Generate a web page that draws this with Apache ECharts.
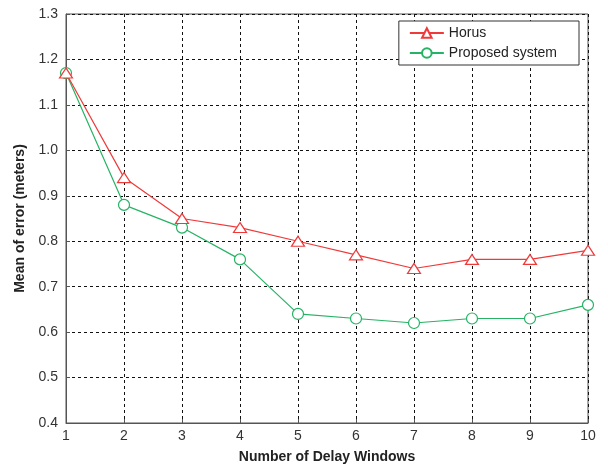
<!DOCTYPE html>
<html>
<head>
<meta charset="utf-8">
<script src="https://cdn.jsdelivr.net/npm/echarts@6/dist/echarts.min.js"></script>
<style>html,body{margin:0;padding:0;background:#fff}#c{width:608px;height:469px}</style>
</head>
<body>
<div id="c"></div>
<script>
const windows = [1, 2, 3, 4, 5, 6, 7, 8, 9, 10];
const horus = [1.17, 0.94, 0.85, 0.83, 0.80, 0.77, 0.74, 0.76, 0.76, 0.78];
const proposed = [1.17, 0.88, 0.83, 0.76, 0.64, 0.63, 0.62, 0.63, 0.63, 0.66];
const seriesNames = ['Horus', 'Proposed system'];

const FONT = '"Liberation Sans Narrow", "Arial Narrow", "Liberation Sans", Arial, sans-serif';
const chart = echarts.init(document.getElementById('c'));
const gridLine = { show: true, lineStyle: { color: '#111', type: [3, 3], width: 1 } };
chart.setOption({
  animation: false,
  backgroundColor: '#fff',
  grid: { left: 66, right: 20, top: 14, bottom: 45, show: true, borderColor: '#555', borderWidth: 1, backgroundColor: 'transparent' },
  legend: {
    data: seriesNames,
    orient: 'vertical',
    right: 29, top: 21,
    padding: [5, 22, 5, 10],
    itemGap: 6,
    itemWidth: 34, itemHeight: 12,
    backgroundColor: '#fff',
    borderColor: '#333', borderWidth: 1,
    borderRadius: 0,
    textStyle: { fontFamily: 'Liberation Sans, Arial, sans-serif', fontSize: 14, color: '#222' }
  },
  xAxis: {
    type: 'value', min: 1, max: 10, interval: 1,
    name: 'Number of Delay Windows', nameLocation: 'middle', nameGap: 27,
    nameTextStyle: { fontFamily: FONT, fontWeight: 'bold', fontSize: 14, color: '#222' },
    axisLine: { show: true, lineStyle: { color: '#555' } },
    axisTick: { show: true, inside: true, length: 4, lineStyle: { color: '#555' } },
    axisLabel: { fontFamily: FONT, fontSize: 14, color: '#333', margin: 6 },
    splitLine: gridLine
  },
  yAxis: {
    type: 'value', min: 0.4, max: 1.3, interval: 0.1,
    name: 'Mean of error (meters)', nameLocation: 'middle', nameGap: 38,
    nameTextStyle: { fontFamily: FONT, fontWeight: 'bold', fontSize: 14, color: '#222' },
    axisLine: { show: true, lineStyle: { color: '#555' } },
    axisTick: { show: true, inside: true, length: 4, lineStyle: { color: '#555' } },
    axisLabel: { fontFamily: FONT, fontSize: 14, color: '#333', margin: 8, formatter: v => v.toFixed(1) },
    splitLine: gridLine
  },
  series: [
    {
      name: seriesNames[0], type: 'line',
      data: windows.map((x, i) => [x, horus[i]]),
      symbol: 'triangle', symbolSize: [13, 10],
      itemStyle: { color: '#fff', borderColor: '#f03a3a', borderWidth: 1.2 },
      lineStyle: { color: '#f03a3a', width: 1.2 },
      z: 3
    },
    {
      name: seriesNames[1], type: 'line',
      data: windows.map((x, i) => [x, proposed[i]]),
      symbol: 'circle', symbolSize: 11,
      itemStyle: { color: '#fff', borderColor: '#26b365', borderWidth: 1.2 },
      lineStyle: { color: '#26b365', width: 1.2 },
      z: 2
    }
  ]
});
</script>
</body>
</html>
